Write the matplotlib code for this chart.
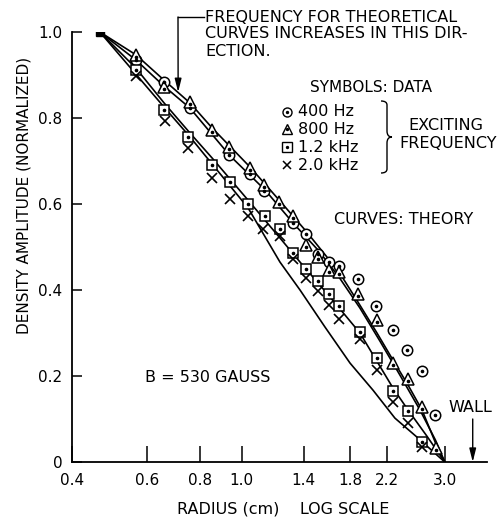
import matplotlib
matplotlib.use("Agg")
import matplotlib.pyplot as plt
from matplotlib.ticker import NullLocator
from matplotlib.path import Path
from matplotlib.patches import PathPatch

plt.rcParams["font.family"] = ["DejaVu Sans"]

# measured radii (cm) and normalized density amplitude for each exciting frequency
r_400 = [0.565, 0.658, 0.757, 0.937, 1.047, 1.13, 1.321, 1.417, 1.512, 1.605, 1.694,
         1.877, 2.07, 2.268, 2.452, 2.653, 2.853]
a_400 = [0.935, 0.884, 0.823, 0.714, 0.670, 0.630, 0.556, 0.530, 0.484, 0.465, 0.456,
         0.426, 0.363, 0.307, 0.260, 0.212, 0.109]

r_800 = [0.565, 0.658, 0.757, 0.853, 0.934, 1.047, 1.129, 1.225, 1.321, 1.417, 1.512,
         1.605, 1.694, 1.877, 2.08, 2.268, 2.46, 2.653, 2.861]
a_800 = [0.947, 0.872, 0.837, 0.772, 0.733, 0.684, 0.644, 0.605, 0.572, 0.505, 0.477,
         0.447, 0.442, 0.391, 0.330, 0.230, 0.193, 0.128, 0.033]

r_1200 = [0.565, 0.658, 0.749, 0.853, 0.94, 1.036, 1.135, 1.231, 1.321, 1.417, 1.512,
          1.605, 1.694, 1.897, 2.08, 2.268, 2.46, 2.653]
a_1200 = [0.912, 0.819, 0.756, 0.691, 0.651, 0.600, 0.572, 0.542, 0.486, 0.449, 0.421,
          0.391, 0.363, 0.302, 0.242, 0.165, 0.119, 0.047]

r_2000 = [0.565, 0.661, 0.749, 0.853, 0.94, 1.036, 1.125, 1.231, 1.321, 1.417, 1.512,
          1.605, 1.694, 1.897, 2.08, 2.268, 2.46, 2.653]
a_2000 = [0.898, 0.793, 0.730, 0.660, 0.612, 0.572, 0.542, 0.526, 0.472, 0.428, 0.398,
          0.365, 0.333, 0.286, 0.214, 0.140, 0.091, 0.035]

# theoretical curves (400 Hz on top, 2 kHz at the bottom)
th_r_400 = [0.465, 0.565, 0.658, 0.757, 0.853, 1.047, 1.231, 1.417, 1.694, 1.877,
            2.08, 2.268, 2.46, 2.653, 2.861, 3.0]
th_a_400 = [1.0, 0.947, 0.888, 0.835, 0.777, 0.686, 0.607, 0.537, 0.442, 0.372,
            0.300, 0.237, 0.179, 0.121, 0.042, 0.0]

th_r_800 = [0.465, 0.565, 0.658, 0.757, 0.94, 1.135, 1.321, 1.512, 1.694, 1.897,
            2.114, 2.355, 2.624, 2.853, 3.0]
th_a_800 = [1.0, 0.935, 0.874, 0.823, 0.712, 0.633, 0.556, 0.493, 0.430, 0.358,
            0.281, 0.202, 0.121, 0.051, 0.0]

th_r_1200 = [0.465, 0.565, 0.658, 0.757, 0.853, 1.036, 1.231, 1.372, 1.613, 1.897,
             2.268, 2.46, 2.725, 3.0]
th_a_1200 = [1.0, 0.916, 0.835, 0.765, 0.707, 0.609, 0.521, 0.465, 0.384, 0.300,
             0.172, 0.121, 0.060, 0.0]

th_r_2000 = [0.465, 0.565, 0.661, 0.757, 0.853, 1.036, 1.231, 1.372, 1.570, 1.798,
             2.036, 2.292, 2.581, 3.0]
th_a_2000 = [1.0, 0.902, 0.823, 0.756, 0.693, 0.591, 0.465, 0.400, 0.314, 0.230,
             0.167, 0.102, 0.058, 0.0]

start_r, start_a = 0.465, 1.0
wall_r = 3.49

x_ticks = [0.4, 0.6, 0.8, 1.0, 1.4, 1.8, 2.2, 3.0]
x_labels = ["0.4", "0.6", "0.8", "1.0", "1.4", "1.8", "2.2", "3.0"]
y_ticks = [0, 0.2, 0.4, 0.6, 0.8, 1.0]
y_labels = ["0", "0.2", "0.4", "0.6", "0.8", "1.0"]

W, H = 503, 521
fig = plt.figure(figsize=(W / 100, H / 100), dpi=100)
ax = fig.add_axes([72 / W, 59 / H, 415 / W, 430 / H])
FS = 11.5


def fx(px):
    return px / W


def fy(py):
    return 1 - py / H


lw = 1.2
for rr, aa in [(th_r_400, th_a_400), (th_r_800, th_a_800),
               (th_r_1200, th_a_1200), (th_r_2000, th_a_2000)]:
    ax.plot(rr, aa, color="black", lw=lw, solid_joinstyle="round")

ax.plot([start_r], [start_a], marker="s", ms=6, color="black", ls="none")

mk = dict(ls="none", mfc="white", mec="black", mew=1.1)
ax.plot(r_400, a_400, marker="o", ms=7.5, **mk)
ax.plot(r_800, a_800, marker="^", ms=8.5, **mk)
ax.plot(r_1200, a_1200, marker="s", ms=7.5, **mk)
ax.plot(r_2000, a_2000, marker="x", ms=7, ls="none", color="black", mew=1.2)
dots = dict(marker="o", ms=1.6, color="black", ls="none")
ax.plot(r_400, a_400, **dots)
ax.plot(r_800, [a - 0.004 for a in a_800], **dots)
ax.plot(r_1200, a_1200, **dots)

ax.set_xscale("log")
ax.set_xlim(0.4, 3.77)
ax.set_ylim(0, 1.0)
ax.set_xticks(x_ticks)
ax.set_xticklabels(x_labels)
ax.xaxis.set_minor_locator(NullLocator())
ax.set_yticks(y_ticks)
ax.set_yticklabels(y_labels)
ax.tick_params(axis="x", direction="in", length=11.5, width=1.1, labelsize=11, pad=8)
ax.tick_params(axis="y", direction="in", length=7, width=1.1, labelsize=11, pad=7)
for s in ["top", "right"]:
    ax.spines[s].set_visible(False)
for s in ["left", "bottom"]:
    ax.spines[s].set_linewidth(1.3)

fig.text(fx(283), fy(509), "RADIUS (cm)    LOG SCALE", ha="center", va="center", fontsize=FS)
fig.text(fx(24), fy(195), "DENSITY AMPLITUDE (NORMALIZED)", ha="center", va="center",
         rotation=90, fontsize=11)

# arrow showing direction of increasing frequency
ax.annotate("", xy=(0.71, 0.86), xycoords="data",
            xytext=(fx(178), fy(17)), textcoords="figure fraction",
            arrowprops=dict(arrowstyle="-|>,head_length=0.8,head_width=0.2",
                            lw=1.0, color="black", shrinkA=0, shrinkB=0))
fig.add_artist(plt.Line2D([fx(178), fx(204)], [fy(17), fy(17)], color="black", lw=1.0))
top_lines = ["FREQUENCY FOR THEORETICAL", "CURVES INCREASES IN THIS DIR-", "ECTION."]
for txt, py in zip(top_lines, [17, 34, 52]):
    fig.text(fx(205), fy(py), txt, ha="left", va="center", fontsize=FS)

# symbol key
fig.text(fx(371), fy(88), "SYMBOLS: DATA", ha="center", va="center", fontsize=11)
key_labels = ["400 Hz", "800 Hz", "1.2 kHz", "2.0 kHz"]
key_marks = ["o", "^", "s", "x"]
for lab, m, py in zip(key_labels, key_marks, [112, 129, 147, 165]):
    if m == "x":
        fig.add_artist(plt.Line2D([fx(287)], [fy(py)], marker="x", ms=6, color="black", mew=1.1))
    else:
        fig.add_artist(plt.Line2D([fx(287)], [fy(py)], marker=m, ms=6.5 if m != "^" else 7.5,
                                  mfc="white", mec="black", mew=1.0))
        fig.add_artist(plt.Line2D([fx(287)], [fy(py)], marker="o", ms=1.4, color="black"))
    fig.text(fx(298), fy(py), lab, ha="left", va="center", fontsize=FS)

# curly brace joining the key entries
bx, top, bot = 381, 101, 173
mid = (top + bot) / 2
verts = [(bx, top), (bx + 6, top), (bx + 6, top + 4), (bx + 6, mid - 6),
         (bx + 6, mid), (bx + 11, mid), (bx + 11, mid),
         (bx + 6, mid), (bx + 6, mid + 6), (bx + 6, bot - 4),
         (bx + 6, bot), (bx, bot)]
verts = [(fx(x), fy(y)) for x, y in verts]
codes = [Path.MOVETO, Path.CURVE3, Path.CURVE3, Path.LINETO,
         Path.CURVE3, Path.CURVE3, Path.MOVETO,
         Path.CURVE3, Path.CURVE3, Path.LINETO, Path.CURVE3, Path.CURVE3]
fig.add_artist(PathPatch(Path(verts, codes), fill=False, lw=1.0, color="black",
                         transform=fig.transFigure))
fig.text(fx(446), fy(125), "EXCITING", ha="center", va="center", fontsize=FS)
fig.text(fx(448), fy(143), "FREQUENCY", ha="center", va="center", fontsize=FS)

fig.text(fx(404), fy(220), "CURVES: THEORY", ha="center", va="center", fontsize=FS)
fig.text(fx(208), fy(378), "B = 530 GAUSS", ha="center", va="center", fontsize=FS)

fig.text(fx(470), fy(408), "WALL", ha="center", va="center", fontsize=FS)
ax.annotate("", xy=(wall_r, 0.0), xytext=(wall_r, 0.10),
            arrowprops=dict(arrowstyle="-|>,head_length=0.8,head_width=0.2",
                            lw=1.0, color="black", shrinkA=0, shrinkB=0))

fig.savefig("out.png", dpi=100)
